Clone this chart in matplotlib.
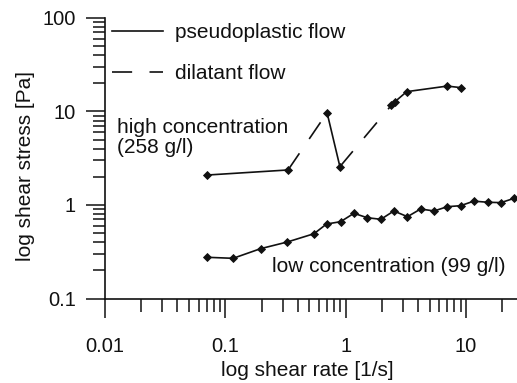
import matplotlib
matplotlib.use("Agg")
import matplotlib.pyplot as plt
from matplotlib.lines import Line2D
from matplotlib.ticker import LogLocator, NullFormatter

plt.rcParams['font.family'] = ['Liberation Sans', 'DejaVu Sans']
plt.rcParams['lines.scale_dashes'] = False

# high concentration (258 g/l)
high_rate = [0.070, 0.332, 0.70, 0.895, 2.40, 2.56, 3.21, 6.97, 9.06]
high_stress = [2.09, 2.37, 9.7, 2.57, 11.7, 12.7, 16.3, 18.7, 18.0]
# flow type of each segment between neighbouring points
high_flow = ['pseudo', 'dilatant', 'pseudo', 'dilatant', 'pseudo', 'pseudo', 'pseudo', 'pseudo']

# low concentration (99 g/l)
low_rate = [0.070, 0.116, 0.196, 0.327, 0.545, 0.693, 0.907, 1.17, 1.51, 1.96,
            2.51, 3.26, 4.19, 5.43, 6.97, 9.0, 11.6, 15.1, 19.5, 25.1]
low_stress = [0.276, 0.269, 0.341, 0.402, 0.493, 0.626, 0.663, 0.815, 0.731, 0.703,
              0.863, 0.750, 0.906, 0.863, 0.959, 0.983, 1.10, 1.07, 1.06, 1.18]

x_ticks = [0.01, 0.1, 1, 10]
x_tick_labels = ['0.01', '0.1', '1', '10']
y_ticks = [0.1, 1, 10, 100]
y_tick_labels = ['0.1', '1', '10', '100']

ink = '#111111'
lw = 1.2
dashed = (0, (14.5, 12.5))
styles = {'pseudo': '-', 'dilatant': dashed}

fig = plt.figure(figsize=(5.17, 3.83), dpi=100)
ax = fig.add_axes([105 / 517, 1 - 298.5 / 383, 412 / 517, 280.5 / 383])

for i, flow in enumerate(high_flow):
    ax.plot(high_rate[i:i + 2], high_stress[i:i + 2], color=ink, lw=lw,
            linestyle=styles[flow], solid_capstyle='butt', dash_capstyle='butt')
ax.plot(high_rate, high_stress, linestyle='none', marker='D', ms=3.6,
        color=ink, mew=0.6)
ax.plot(low_rate, low_stress, color=ink, lw=lw, marker='D', ms=3.6, mew=0.6)

ax.set_xscale('log')
ax.set_yscale('log')
ax.set_xlim(0.01, 26.5)
ax.set_ylim(0.1, 100)

ax.set_xticks(x_ticks)
ax.set_xticklabels(x_tick_labels)
ax.set_yticks(y_ticks)
ax.set_yticklabels(y_tick_labels)
ax.xaxis.set_minor_locator(LogLocator(base=10, subs=range(2, 10)))
ax.yaxis.set_minor_locator(LogLocator(base=10, subs=range(2, 10)))
ax.xaxis.set_minor_formatter(NullFormatter())
ax.yaxis.set_minor_formatter(NullFormatter())

ax.tick_params(which='major', length=14, width=1.1, color=ink,
               labelsize=14.5, labelcolor=ink)
ax.tick_params(which='minor', length=9, width=1.1, color=ink)
ax.tick_params(axis='x', which='major', pad=14)
ax.tick_params(axis='y', which='major', pad=7)

for side in ['top', 'right']:
    ax.spines[side].set_visible(False)
for side in ['left', 'bottom']:
    ax.spines[side].set_linewidth(1.2)
    ax.spines[side].set_color(ink)
ax.patch.set_visible(False)

ax.set_xlabel('log shear rate [1/s]', fontsize=15, color=ink)
ax.set_ylabel('log shear stress [Pa]', fontsize=15, color=ink)
ax.xaxis.label.set_va('center')
ax.yaxis.label.set_va('center')
ax.xaxis.set_label_coords(0.4915, -0.258)
ax.yaxis.set_label_coords(-0.194, 0.472)

ax.text(0.029, 0.589, 'high concentration', transform=ax.transAxes,
        fontsize=15, color=ink, va='baseline')
ax.text(0.029, 0.518, '(258 g/l)', transform=ax.transAxes,
        fontsize=15, color=ink, va='baseline')
ax.text(0.405, 0.0955, 'low concentration (99 g/l)', transform=ax.transAxes,
        fontsize=15, color=ink, va='baseline')

handles = [Line2D([], [], color=ink, lw=lw, linestyle='-'),
           Line2D([], [], color=ink, lw=lw, linestyle=dashed, dash_capstyle='butt')]
ax.legend(handles, ['pseudoplastic flow', 'dilatant flow'], loc='upper left',
          bbox_to_anchor=(0.0163, 0.982), frameon=False, fontsize=15,
          handlelength=2.48, handletextpad=0.56, labelspacing=1.05,
          borderpad=0, borderaxespad=0, labelcolor=ink)

fig.savefig('out.png', dpi=100)
